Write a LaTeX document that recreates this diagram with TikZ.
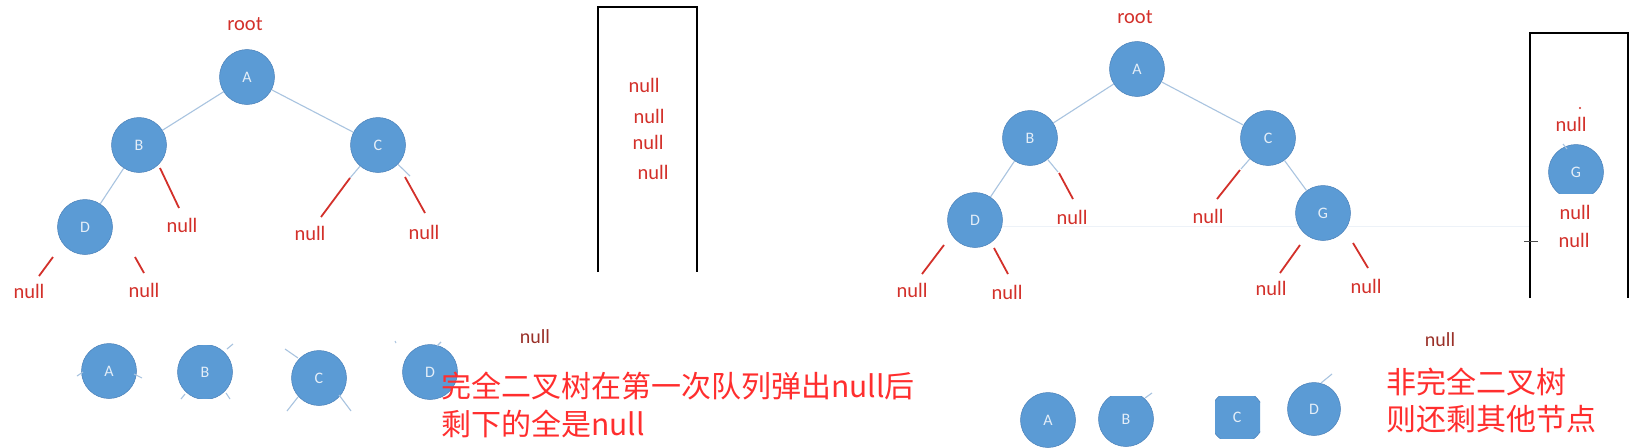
\documentclass[tikz,border=0pt]{standalone}
\usepackage{fontspec}
\setmainfont{Carlito}
\newfontfamily\cjk{Noto Sans CJK SC}
\definecolor{nodefill}{HTML}{5B9BD5}
\definecolor{nodeborder}{HTML}{4A80B8}
\definecolor{nodetext}{HTML}{E4EEF8}
\definecolor{edgeblue}{HTML}{A9C4E0}
\definecolor{nullred}{HTML}{D3302A}
\definecolor{cjkred}{HTML}{FF2E2E}
\definecolor{darknull}{HTML}{9A3028}
\definecolor{faint}{HTML}{EDF2F8}
\begin{document}
\begin{tikzpicture}[x=1pt,y=-1pt,
  tnode/.style={circle,fill=nodefill,draw=nodeborder,line width=0.5pt,minimum size=55pt,inner sep=0pt,text=nodetext,font=\fontsize{16}{16}\selectfont},
  tedge/.style={draw=edgeblue,line width=1.1pt},
  nulledge/.style={draw=nullred,line width=1.8pt},
  nulltxt/.style={text=nullred,font=\fontsize{20.5}{20.5}\selectfont,inner sep=0pt},
  darktxt/.style={text=darknull,font=\fontsize{20}{20}\selectfont,inner sep=0pt},
  cjktxt/.style={text=cjkred,font=\cjk\fontsize{30}{30}\selectfont,inner sep=0pt,anchor=west},
  boxline/.style={draw=black,line width=2.5pt}]
\useasboundingbox (0,0) rectangle (1646,447);
\fill[white] (0,0) rectangle (1646,447);

% ---------------- left tree ----------------
\node[nulltxt] (rootL) at (245,24) {root};
\node[tnode] (LA) at (247,77) {A};
\node[tnode] (LB) at (139,145) {B};
\node[tnode] (LC) at (378,145) {C};
\node[tnode] (LD) at (85,227) {D};
\draw[tedge] (LA) -- (LB);
\draw[tedge] (LA) -- (LC);
\draw[tedge] (LB) -- (LD);

\coordinate (lb1) at (160,168); \coordinate (lb2) at (179,208);
\node[nulltxt] (nLB) at (182,225) {null};
\draw[nulledge] (lb1) -- (lb2);

\coordinate (lc1) at (350,178); \coordinate (lc2) at (321,217);
\draw[tedge] (LC) -- (lc1);
\draw[nulledge] (lc1) -- (lc2);
\node[nulltxt] (nLC1) at (310,233) {null};

\coordinate (lc3) at (410,176); \coordinate (lc4) at (405,177); \coordinate (lc5) at (425,213);
\draw[tedge] (LC) -- (lc3);
\draw[nulledge] (lc4) -- (lc5);
\node[nulltxt] (nLC2) at (424,232) {null};

\coordinate (ld1) at (53,257); \coordinate (ld2) at (39,276);
\draw[nulledge] (ld1) -- (ld2);
\node[nulltxt] (nLD1) at (29,291) {null};
\coordinate (ld3) at (135,257); \coordinate (ld4) at (144,273);
\draw[nulledge] (ld3) -- (ld4);
\node[nulltxt] (nLD2) at (144,290) {null};

% left queue box
\coordinate (lq1) at (598,272); \coordinate (lq2) at (598,7);
\coordinate (lq3) at (697,7); \coordinate (lq4) at (697,272);
\draw[boxline] (lq1) -- (lq2) -- (lq3) -- (lq4);
\node[nulltxt] (q1) at (644,85) {null};
\node[nulltxt] (q2) at (649,116) {null};
\node[nulltxt] (q3) at (648,142) {null};
\node[nulltxt] (q4) at (653,172) {null};

% left bottom row
\node[tnode] (LA2) at (109,371) {A};
\coordinate (la2a) at (77,376); \coordinate (la2b) at (83,372);
\draw[tedge] (la2a) -- (la2b);
\coordinate (la2c) at (134,374); \coordinate (la2d) at (142,378);
\draw[tedge] (la2c) -- (la2d);
\begin{scope}
\clip (150,345) rectangle (260,398);
\node[tnode] (LB2) at (205,372) {B};
\end{scope}
\coordinate (lb2a) at (227,349); \coordinate (lb2b) at (233,344);
\draw[tedge] (lb2a) -- (lb2b);
\coordinate (lb2c) at (185,394); \coordinate (lb2d) at (181,399);
\draw[tedge] (lb2c) -- (lb2d);
\coordinate (lb2e) at (226,393); \coordinate (lb2f) at (230,399);
\draw[tedge] (lb2e) -- (lb2f);
\node[tnode] (LC2) at (319,378) {C};
\coordinate (lc2a) at (285,349); \coordinate (lc2b) at (298,358);
\draw[tedge] (lc2a) -- (lc2b);
\coordinate (lc2c) at (298,397); \coordinate (lc2d) at (287,411);
\draw[tedge] (lc2c) -- (lc2d);
\coordinate (lc2e) at (339,395); \coordinate (lc2f) at (351,411);
\draw[tedge] (lc2e) -- (lc2f);
\node[tnode] (LD2) at (430,372) {D};
\coordinate (ld2a) at (441,342); \coordinate (ld2b) at (437,346);
\draw[tedge] (ld2a) -- (ld2b);
\coordinate (ld2c) at (395,341); \coordinate (ld2d) at (396,343);
\draw[tedge] (ld2c) -- (ld2d);

\node[darktxt] (nbL) at (535,337) {null};
\node[cjktxt] (txtL1) at (441,386) {完全二叉树在第一次队列弹出null后};
\node[cjktxt] (txtL2) at (441,424) {剩下的全是null};

% ---------------- right tree ----------------
\draw[faint,line width=1pt] (1000,226) -- (1530,226);
\node[nulltxt] (rootR) at (1135,17) {root};
\node[tnode] (RA) at (1137,69) {A};
\node[tnode] (RB) at (1030,138) {B};
\node[tnode] (RC) at (1268,138) {C};
\node[tnode] (RD) at (975,220) {D};
\node[tnode] (RG) at (1323,213) {G};
\draw[tedge] (RA) -- (RB);
\draw[tedge] (RA) -- (RC);
\draw[tedge] (RB) -- (RD);
\draw[tedge] (RC) -- (RG);

\coordinate (rb1) at (1058,172); \coordinate (rb2) at (1059,173); \coordinate (rb3) at (1073,199);
\draw[tedge] (RB) -- (rb1);
\draw[nulledge] (rb2) -- (rb3);
\node[nulltxt] (nRB) at (1072,217) {null};

\coordinate (rc1) at (1241,169); \coordinate (rc2) at (1240,170); \coordinate (rc3) at (1217,199);
\draw[tedge] (RC) -- (rc1);
\draw[nulledge] (rc2) -- (rc3);
\node[nulltxt] (nRC) at (1208,216) {null};

\coordinate (rd1) at (944,245); \coordinate (rd2) at (922,274);
\draw[nulledge] (rd1) -- (rd2);
\node[nulltxt] (nRD1) at (912,290) {null};
\coordinate (rd3) at (994,248); \coordinate (rd4) at (1008,274);
\draw[nulledge] (rd3) -- (rd4);
\node[nulltxt] (nRD2) at (1007,292) {null};

\coordinate (rg1) at (1300,245); \coordinate (rg2) at (1280,273);
\draw[nulledge] (rg1) -- (rg2);
\node[nulltxt] (nRG1) at (1271,288) {null};
\coordinate (rg3) at (1353,243); \coordinate (rg4) at (1368,268);
\draw[nulledge] (rg3) -- (rg4);
\node[nulltxt] (nRG2) at (1366,286) {null};

% right queue box
\coordinate (rq1) at (1530,298); \coordinate (rq2) at (1530,33);
\coordinate (rq3) at (1628,33); \coordinate (rq4) at (1628,298);
\draw[boxline] (rq1) -- (rq2) -- (rq3) -- (rq4);
\coordinate (cur1) at (1524,241); \coordinate (cur2) at (1538,241);
\draw[black!70,line width=1pt] (cur1) -- (cur2);
\fill[nullred] (1580,108) circle (1.2);
\node[nulltxt] (rq5) at (1571,124) {null};
\begin{scope}
\clip (1540,140) rectangle (1620,193);
\node[tnode] (QG) at (1576,172) {G};
\end{scope}
\coordinate (qg1) at (1563,144); \coordinate (qg2) at (1567,149);
\draw[tedge] (qg1) -- (qg2);
\node[nulltxt] (rq6) at (1575,212) {null};
\node[nulltxt] (rq7) at (1574,240) {null};

% right bottom row
\node[tnode] (RA2) at (1048,420) {A};
\begin{scope}
\clip (1090,396) rectangle (1165,447);
\node[tnode] (RB2) at (1126,419) {B};
\end{scope}
\coordinate (rb2a) at (1145,398); \coordinate (rb2b) at (1152,393);
\draw[tedge] (rb2a) -- (rb2b);
\begin{scope}
\clip (1215,396) rectangle (1260,438);
\node[tnode] (RC2) at (1237,417) {C};
\end{scope}
\node[tnode,minimum size=53pt] (RD2) at (1314,409) {D};
\coordinate (rd2a) at (1321,383); \coordinate (rd2b) at (1332,374);
\draw[tedge] (rd2a) -- (rd2b);

\node[darktxt] (nbR) at (1440,340) {null};
\node[cjktxt] (txtR1) at (1386,382) {非完全二叉树};
\node[cjktxt] (txtR2) at (1386,419) {则还剩其他节点};
\end{tikzpicture}
\end{document}
